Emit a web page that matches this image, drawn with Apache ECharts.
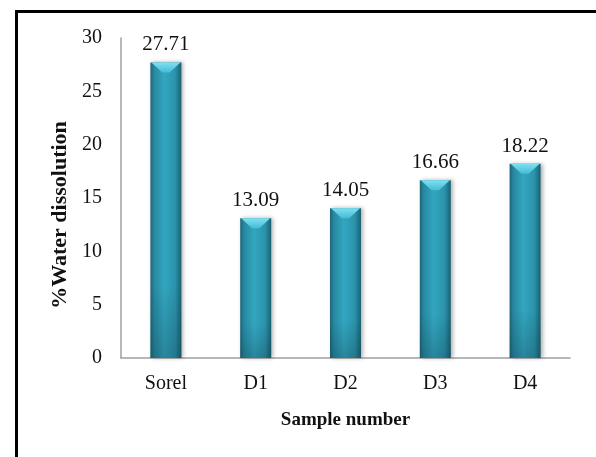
<!DOCTYPE html>
<html>
<head>
<meta charset="utf-8">
<script src="https://cdn.jsdelivr.net/npm/echarts@6/dist/echarts.min.js"></script>
<style>
  html, body { margin: 0; padding: 0; background: #fff; }
  #chart { width: 596px; height: 457px; }
</style>
</head>
<body>
<div id="chart"></div>
<script>
// Water dissolution per sample
const categories = ['Sorel', 'D1', 'D2', 'D3', 'D4'];
const dissolution = [27.71, 13.09, 14.05, 16.66, 18.22];
const yTicks = { min: 0, max: 30, interval: 5 };
const yTitle = '%Water dissolution';
const xTitle = 'Sample number';

const serif = '"Liberation Serif", "DejaVu Serif", serif';

const bodyFill = new echarts.graphic.LinearGradient(0, 0, 1, 0, [
  { offset: 0, color: '#1b6576' },
  { offset: 0.12, color: '#2788a0' },
  { offset: 0.45, color: '#33a6c0' },
  { offset: 0.8, color: '#2b93ab' },
  { offset: 1, color: '#1a6172' }
]);
const baseShade = new echarts.graphic.LinearGradient(0, 0, 0, 1, [
  { offset: 0, color: 'rgba(10,40,50,0)' },
  { offset: 0.75, color: 'rgba(10,40,50,0)' },
  { offset: 1, color: 'rgba(10,40,50,0.25)' }
]);

// Bevelled cylinder column with its value written above it
function renderCylinder(params, api) {
  const idx = api.value(0);
  const val = api.value(1);
  const top = api.coord([idx, val]);
  const bottom = api.coord([idx, 0]);
  const w = api.size([1, 0])[0] * 0.345;
  const x0 = top[0] - w / 2;
  const h = bottom[1] - top[1];
  const bevel = 10;
  return {
    type: 'group',
    children: [
      {
        type: 'rect',
        shape: { x: x0, y: top[1], width: w, height: h },
        style: {
          fill: bodyFill,
          shadowBlur: 4, shadowOffsetX: 2, shadowOffsetY: 0,
          shadowColor: 'rgba(0,0,0,0.3)'
        }
      },
      {
        type: 'rect',
        shape: { x: x0, y: top[1], width: w, height: h },
        style: { fill: baseShade }
      },
      {
        type: 'polygon',
        shape: {
          points: [
            [x0 + 1, top[1]],
            [x0 + w - 1, top[1]],
            [top[0] + w * 0.12, top[1] + bevel],
            [top[0] - w * 0.12, top[1] + bevel]
          ]
        },
        style: {
          fill: new echarts.graphic.LinearGradient(0, 0, 0, 1, [
            { offset: 0, color: '#7fe0f2' },
            { offset: 1, color: '#45bcd6' }
          ])
        }
      },
      {
        type: 'text',
        x: top[0],
        y: top[1] - 7,
        style: {
          text: val.toFixed(2),
          fontFamily: serif,
          fontSize: 21,
          fill: '#111',
          align: 'center',
          verticalAlign: 'bottom'
        }
      }
    ]
  };
}

const chart = echarts.init(document.getElementById('chart'), null, { renderer: 'canvas' });
chart.setOption({
  animation: false,
  backgroundColor: '#fff',
  graphic: [
    {
      type: 'rect',
      left: 14, top: 9,
      shape: { width: 700, height: 600 },
      style: { fill: 'none', stroke: '#000', lineWidth: 3 },
      silent: true
    },
    {
      type: 'text',
      x: 60, y: 215,
      rotation: Math.PI / 2,
      style: {
        text: yTitle,
        fontFamily: serif,
        fontSize: 22,
        fontWeight: 'bold',
        fill: '#111',
        align: 'center',
        verticalAlign: 'middle'
      },
      silent: true
    }
  ],
  grid: { left: 121, top: 38, width: 449, height: 320 },
  xAxis: {
    type: 'category',
    data: categories,
    axisLine: { lineStyle: { color: '#a0a0a0', width: 1.5 } },
    axisTick: { show: false },
    axisLabel: { fontFamily: serif, fontSize: 20, color: '#111', margin: 16 },
    name: xTitle,
    nameLocation: 'middle',
    nameGap: 53,
    nameTextStyle: { fontFamily: serif, fontSize: 19, fontWeight: 'bold', color: '#111' }
  },
  yAxis: {
    type: 'value',
    min: yTicks.min, max: yTicks.max, interval: yTicks.interval,
    axisLine: { show: true, lineStyle: { color: '#a0a0a0', width: 1.5 } },
    axisTick: { show: false },
    splitLine: { show: false },
    axisLabel: { fontFamily: serif, fontSize: 20, color: '#111', margin: 19 }
  },
  series: [
    {
      type: 'custom',
      renderItem: renderCylinder,
      data: dissolution.map((v, i) => [i, v]),
      encode: { x: 0, y: 1 }
    }
  ]
});
</script>
</body>
</html>
